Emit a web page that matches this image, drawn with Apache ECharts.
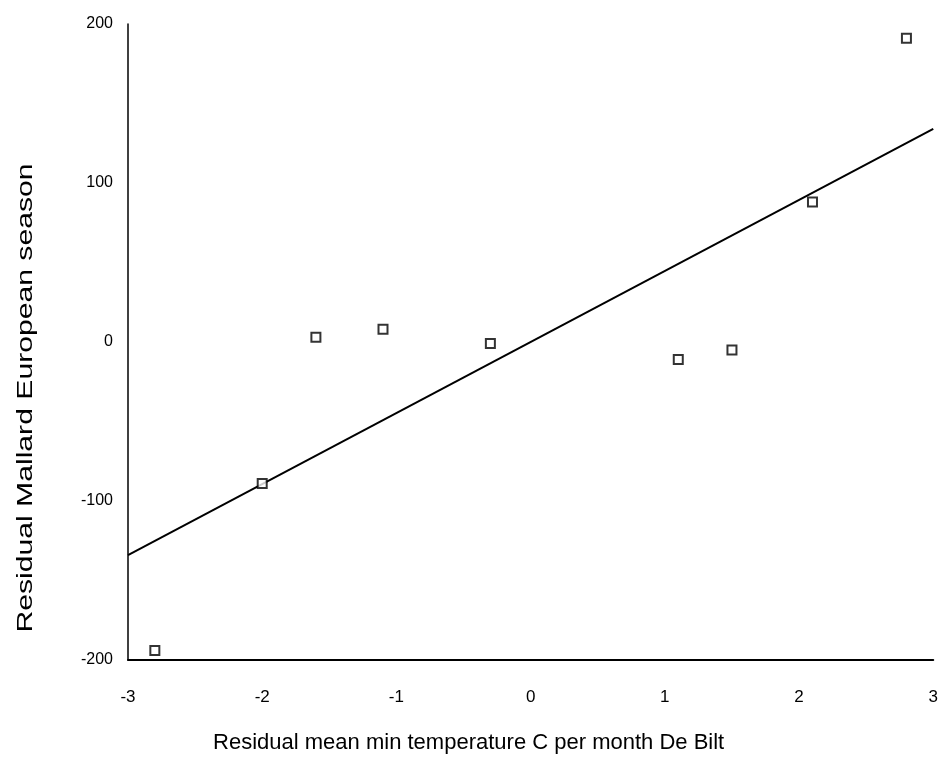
<!DOCTYPE html>
<html>
<head>
<meta charset="utf-8">
<title>Mallard residuals</title>
<script src="https://cdn.jsdelivr.net/npm/echarts@6/dist/echarts.min.js"></script>
<style>
	html, body { margin: 0; padding: 0; background: #fff; overflow: hidden; }
	#chart { width: 941px; height: 781px; }
</style>
</head>
<body>
<div id="chart"></div>
<script>
'use strict';
// residual temperature (x) vs residual season (y)
var tempResid = [-2.8, -2.0, -1.6, -1.1, -0.3, 1.1, 1.5, 2.1, 2.8];
var seasonResid = [-194, -89, 3, 8, -1, -11, -5, 88, 191];
// regression line end points
var fitX = [-3, 3];
var fitY = [-134, 134];
var xTicks = [-3, -2, -1, 0, 1, 2, 3];
var yTicks = [-200, -100, 0, 100, 200];

var xTitle = 'Residual mean min temperature C per month De Bilt';
var yTitle = 'Residual Mallard European season';

(function(){
	var chart = echarts.init(document.getElementById('chart'));
	var font = 'Liberation Sans, Arial, sans-serif';

	var points = tempResid.map(function(x, i){
		return [x, seasonResid[i]];
	});
	var line = fitX.map(function(x, i){
		return [x, fitY[i]];
	});

	chart.setOption({
		animation: false,
		backgroundColor: '#fff',
		grid: { left: 128, right: 3, top: 24, bottom: 121 },
		xAxis: {
			type: 'value',
			min: xTicks[0],
			max: xTicks[xTicks.length - 1],
			interval: 1,
			splitLine: { show: false },
			axisTick: { show: false },
			axisLine: { onZero: false, lineStyle: { color: '#000', width: 2 } },
			axisLabel: { color: '#000', fontSize: 17, fontFamily: font, margin: 29 },
			name: xTitle,
			nameLocation: 'middle',
			nameGap: 72,
			nameTextStyle: { color: '#000', fontSize: 22, fontFamily: font, padding: [0, 124, 0, 0] }
		},
		yAxis: {
			type: 'value',
			min: yTicks[0],
			max: yTicks[yTicks.length - 1],
			interval: 100,
			splitLine: { show: false },
			axisTick: { show: false },
			axisLine: { onZero: false, lineStyle: { color: '#000', width: 1.5 } },
			axisLabel: { color: '#000', fontSize: 16, fontFamily: font, margin: 15 }
		},
		// y title is taller in the scan, so stretch it along its length
		graphic: [{
			type: 'text',
			x: 26,
			y: 398,
			rotation: Math.PI / 2,
			scaleX: 1.37,
			style: {
				text: yTitle,
				fill: '#000',
				font: '22px ' + font,
				align: 'center',
				verticalAlign: 'middle'
			}
		}],
		series: [{
			type: 'line',
			data: line,
			symbol: 'none',
			lineStyle: { color: '#000', width: 2 },
			z: 2
		}, {
			type: 'scatter',
			data: points,
			symbol: 'rect',
			symbolSize: 9,
			itemStyle: { color: '#fff', borderColor: '#000', borderWidth: 2 },
			z: 3
		}]
	});
}());
</script>
</body>
</html>
